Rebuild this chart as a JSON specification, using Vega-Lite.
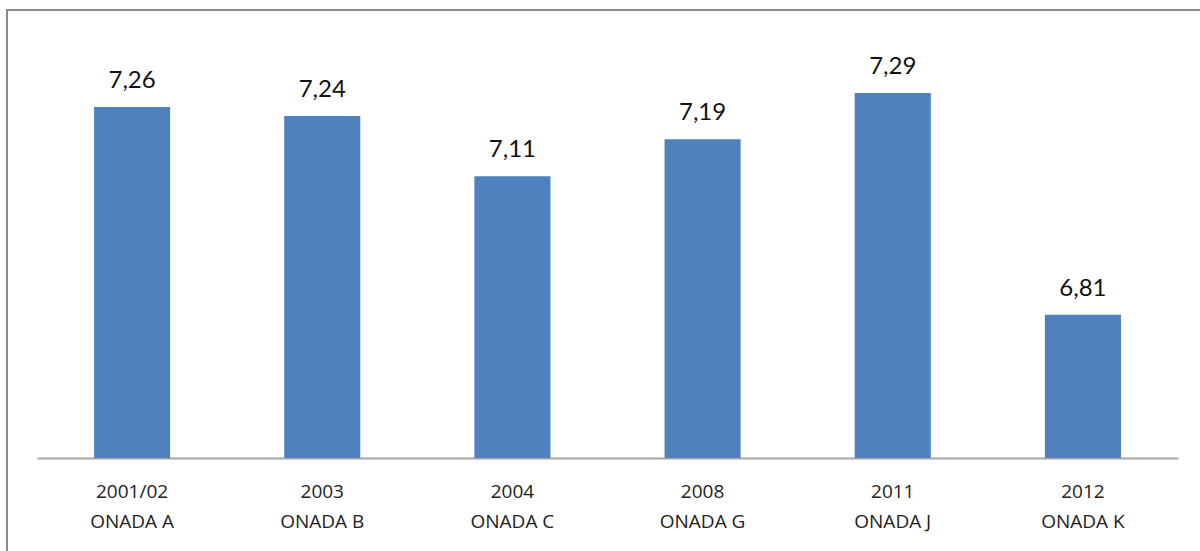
{
  "$schema": "https://vega.github.io/schema/vega-lite/v6.json",
  "autosize": {"type": "none"},
  "padding": {"left": 7, "top": 10, "right": 0, "bottom": 0},
  "width": 1200,
  "height": 545,
  "config": {
    "locale": {"number": {"decimal": ",", "thousands": ".", "grouping": [3], "currency": ["", " €"]}},
    "view": {"stroke": "#8c8c8c", "strokeWidth": 2},
    "font": "Lato"
  },
  "data": {
    "values": [
      {"periodo": "2001/02|ONADA A", "valor": 7.26},
      {"periodo": "2003|ONADA B", "valor": 7.24},
      {"periodo": "2004|ONADA C", "valor": 7.11},
      {"periodo": "2008|ONADA G", "valor": 7.19},
      {"periodo": "2011|ONADA J", "valor": 7.29},
      {"periodo": "2012|ONADA K", "valor": 6.81}
    ]
  },
  "encoding": {
    "x": {
      "field": "periodo",
      "type": "nominal",
      "sort": null,
      "scale": {"range": [30, 1171], "paddingInner": 0.6, "paddingOuter": 0.3},
      "axis": {
        "title": null,
        "offset": -97,
        "labelAngle": 0,
        "ticks": false,
        "domainColor": "#a6a6a6",
        "domainWidth": 2,
        "labelExpr": "split(datum.label, '|')",
        "labelFont": "Open Sans",
        "labelFontSize": 19,
        "labelColor": "#222222",
        "labelLineHeight": 30,
        "labelPadding": 24,
        "labelBaseline": "top"
      }
    },
    "y": {
      "field": "valor",
      "type": "quantitative",
      "scale": {"domain": [6.5, 7.5], "range": [448, -14], "zero": false, "nice": false},
      "axis": null
    }
  },
  "layer": [
    {
      "mark": {"type": "bar", "color": "#4f81bd", "clip": false},
      "encoding": {"y2": {"datum": 6.5}}
    },
    {
      "mark": {"type": "text", "baseline": "bottom", "dy": -14, "fontSize": 24, "font": "Lato", "color": "#111111"},
      "encoding": {"text": {"field": "valor", "type": "quantitative", "format": ".2f"}}
    }
  ]
}
